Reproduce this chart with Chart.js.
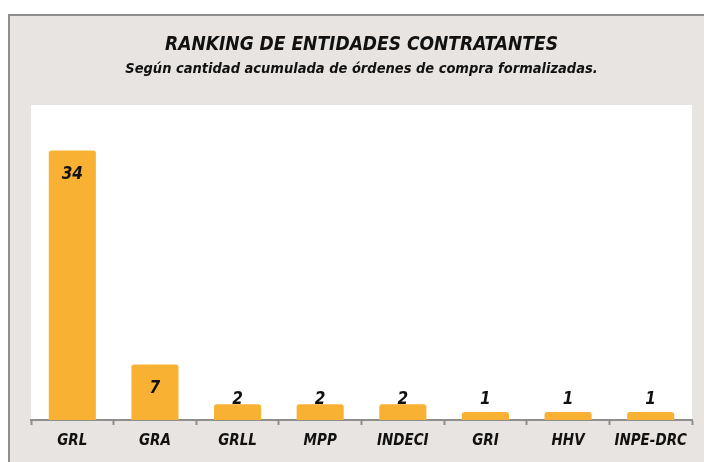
<!DOCTYPE html>
<html>
<head>
<meta charset="utf-8">
<script src="https://cdn.jsdelivr.net/npm/chart.js@4.4.0/dist/chart.umd.min.js"></script>
<style>
  html, body { margin: 0; padding: 0; background: #ffffff; }
  #wrap { width: 704px; height: 462px; position: relative; }
</style>
</head>
<body>
<div id="wrap"><canvas id="myChart" width="704" height="462"></canvas></div>
<script>
const entidades = ['GRL', 'GRA', 'GRLL', 'MPP', 'INDECI', 'GRI', 'HHV', 'INPE-DRC'];
const ordenes = [34, 7, 2, 2, 2, 1, 1, 1];

const fontFam = '"Liberation Sans Narrow", "DejaVu Sans Condensed", "Liberation Sans", sans-serif';
const canvas = document.getElementById('myChart');

// fondo gris del panel y area blanca del grafico
const fondo = {
    id: 'fondo',
    beforeDraw(chart) {
        const ctx = chart.ctx;
        const a = chart.chartArea;
        ctx.save();
        ctx.fillStyle = '#ffffff';
        ctx.fillRect(0, 0, chart.width, chart.height);
        ctx.fillStyle = '#e8e4e1';
        ctx.fillRect(8, 14, chart.width, chart.height);
        ctx.strokeStyle = '#8e8e8e';
        ctx.lineWidth = 2;
        ctx.beginPath();
        ctx.moveTo(9, chart.height);
        ctx.lineTo(9, 15);
        ctx.lineTo(chart.width, 15);
        ctx.stroke();
        ctx.fillStyle = '#ffffff';
        ctx.fillRect(a.left, 105, a.right - a.left, a.bottom - 105);
        ctx.restore();
    }
};

// etiquetas de valor dentro de la barra
const etiquetas = {
    id: 'etiquetas',
    afterDatasetsDraw(chart) {
        const ctx = chart.ctx;
        const meta = chart.getDatasetMeta(0);
        ctx.save();
        ctx.fillStyle = '#111111';
        ctx.font = 'italic bold 17px ' + fontFam;
        ctx.textAlign = 'center';
        ctx.textBaseline = 'middle';
        meta.data.forEach((bar, i) => {
            const y = Math.min(bar.y + 24, bar.base - 20);
            ctx.fillText(String(ordenes[i]), bar.x, y);
        });
        ctx.restore();
    }
};

const data = {
    labels: entidades,
    datasets: [{
        label: 'Órdenes de compra',
        data: ordenes,
        backgroundColor: '#f8b133',
        borderRadius: 3,
        borderSkipped: 'bottom',
        barPercentage: 0.57,
        categoryPercentage: 1
    }]
};

const config = {
    type: 'bar',
    data: data,
    options: {
        responsive: false,
        animation: false,
        layout: {
            padding: { top: 34, left: 31, right: 12, bottom: 5 }
        },
        plugins: {
            legend: { display: false },
            tooltip: { enabled: false },
            title: {
                display: true,
                text: 'RANKING DE ENTIDADES CONTRATANTES',
                color: '#111111',
                font: { family: fontFam, size: 19, style: 'italic', weight: 'bold' },
                padding: { top: 0, bottom: 3 }
            },
            subtitle: {
                display: true,
                text: 'Según cantidad acumulada de órdenes de compra formalizadas.',
                color: '#111111',
                font: { family: fontFam, size: 14.5, style: 'italic', weight: 'bold' },
                padding: { top: 1, bottom: 27 }
            }
        },
        scales: {
            x: {
                grid: {
                    offset: true,
                    drawOnChartArea: false,
                    drawTicks: true,
                    tickLength: 5,
                    tickWidth: 2,
                    color: '#8e8e8e'
                },
                border: { display: true, color: '#8e8e8e', width: 2 },
                ticks: {
                    color: '#111111',
                    padding: 7,
                    maxRotation: 0,
                    minRotation: 0,
                    autoSkip: false,
                    font: { family: fontFam, size: 15, style: 'italic', weight: 'bold' }
                }
            },
            y: {
                display: false,
                min: 0,
                max: 39.7
            }
        }
    },
    plugins: [fondo, etiquetas]
};

const myChart = new Chart(canvas, config);
</script>
</body>
</html>
